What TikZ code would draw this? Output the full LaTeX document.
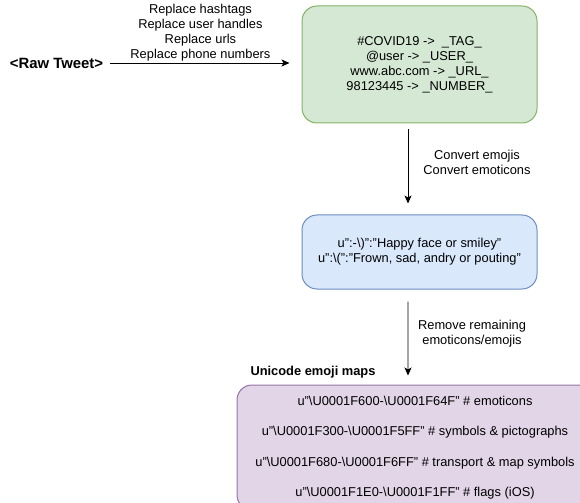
\documentclass[tikz,border=0pt]{standalone}
\usepackage{fontspec}
\setmainfont{Liberation Sans}
\usetikzlibrary{arrows.meta}
\definecolor{greenfill}{HTML}{D5E8D4}
\definecolor{greenline}{HTML}{82B366}
\definecolor{bluefill}{HTML}{DAE8FC}
\definecolor{blueline}{HTML}{6C8EBF}
\definecolor{purplefill}{HTML}{E1D5E7}
\definecolor{purpleline}{HTML}{9673A6}
\newcommand{\bs}{\textbackslash}

\begin{document}
\begin{tikzpicture}[x=1bp, y=-1bp,
		font=\fontsize{12.85bp}{15bp}\selectfont,
		box/.style={draw, rounded corners=15bp, line width=1bp, inner sep=0pt, align=center},
		arr/.style={-{Stealth[length=8bp,width=7bp,inset=2bp]}, line width=0.8bp},
		lbl/.style={align=center, inner sep=0pt}]
			%%%%% START %%%%%
			
			\useasboundingbox (0, 0) rectangle (580, 503);
			\clip (0, 0) rectangle (580, 503);
			
			\node[inner sep=0pt, font=\fontsize{14.9bp}{16bp}\selectfont\bfseries] (raw) at (56.5, 63) {<Raw Tweet>};
			
			\node[box, fill=greenfill, draw=greenline, minimum width=235bp, minimum height=117bp] (green) at (419.5, 64.5)
				{\#COVID19 -> \ \_TAG\_\\@user -> \_USER\_\\www.abc.com -> \_URL\_\\98123445 -> \_NUMBER\_};
			
			\node[box, fill=bluefill, draw=blueline, minimum width=235bp, minimum height=74bp] (blue) at (419.5, 252)
				{u":-\bs)":"Happy face or smiley"\\u":\bs(":"Frown, sad, andry or pouting"};
			
			\node[box, fill=purplefill, draw=purpleline, minimum width=356bp, minimum height=125bp] (purple) at (415, 447.5)
				{u"\bs U0001F600-\bs U0001F64F" \# emoticons\\[15.5bp]
				 u"\bs U0001F300-\bs U0001F5FF" \# symbols \& pictographs\\[15.5bp]
				 u"\bs U0001F680-\bs U0001F6FF" \# transport \& map symbols\\[15.5bp]
				 u"\bs U0001F1E0-\bs U0001F1FF" \# flags (iOS)};
			
			\node[inner sep=0pt, font=\fontsize{12.85bp}{15bp}\selectfont\bfseries] (maps) at (313, 372) {Unicode emoji maps};
			
			% arrows
			\draw[arr, shorten <=7bp, shorten >=12bp] (raw) -- (raw -| green.west)
				node[lbl, pos=0.49, above=1bp] {Replace hashtags\\Replace user handles\\Replace urls\\Replace phone numbers};
			
			\draw[arr, shorten <=6bp, shorten >=11bp] ([xshift=-11.5bp]green.south) -- ([xshift=-11.5bp]blue.north);
			\node[lbl] (convert) at (477, 162) {Convert emojis\\Convert emoticons};
			
			\draw[arr, shorten <=12bp, shorten >=9bp] ([xshift=-11.5bp]blue.south) -- ([xshift=-7bp]purple.north);
			\node[lbl] (remove) at (472, 334) {Remove remaining\\emoticons/emojis};
			
			%%%%% END %%%%%
\end{tikzpicture}
\end{document}
